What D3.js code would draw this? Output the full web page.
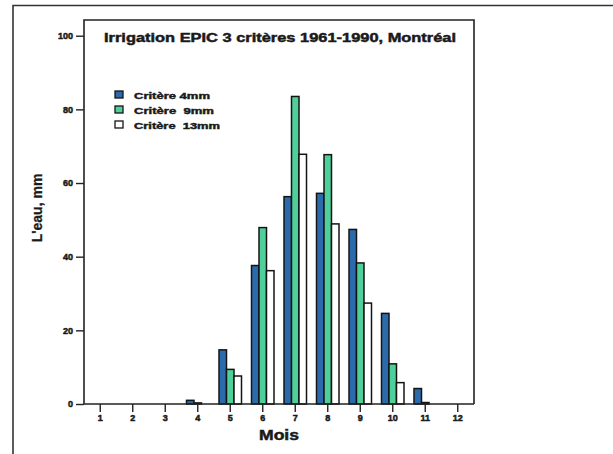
<!DOCTYPE html>
<html>
<head>
<meta charset="utf-8">
<script src="https://cdn.jsdelivr.net/npm/d3@7"></script>
<style>
  html, body { margin: 0; padding: 0; background: #fff; }
  svg { display: block; }
  text { font-family: "Liberation Sans", Arial, sans-serif; font-weight: bold; fill: #1a1a1a; }
</style>
</head>
<body>
<svg id="chart" width="613" height="454"></svg>
<script>
// Monthly irrigation water (mm), EPIC model, Montréal 1961-1990
const months = [1, 2, 3, 4, 5, 6, 7, 8, 9, 10, 11, 12];
const crit4  = [0, 0, 0, 1.0, 14.7, 37.6, 56.3, 57.2, 47.4, 24.6, 4.2, 0];
const crit9  = [0, 0, 0, 0.3, 9.4, 47.9, 83.5, 67.7, 38.3, 10.9, 0.4, 0];
const crit13 = [0, 0, 0, 0, 7.6, 36.2, 67.8, 48.9, 27.4, 5.8, 0, 0];
const seriesNames = ["Critère 4mm", "Critère  9mm", "Critère  13mm"];
const yTicks = [0, 20, 40, 60, 80, 100];
const titleText = "Irrigation EPIC 3 critères 1961-1990, Montréal";

const colors = ["#2b6aab", "#4fd09a", "#ffffff"];
const seriesValues = [crit4, crit9, crit13];

const svg = d3.select("#chart");

// heavy lettering: bold face plus a thin outline of the same ink
const heavy = (sel, w) => sel.attr("stroke", "#1a1a1a").attr("stroke-width", w).attr("paint-order", "stroke");

// page frame
svg.append("path")
  .attr("d", "M13,454 L13,5.5 L613,5.5")
  .attr("fill", "none").attr("stroke", "#333").attr("stroke-width", 1.6);

const plot = { left: 84, right: 474, top: 20, bottom: 404 };

const x = d3.scaleBand().domain(months).range([plot.left, plot.right]).padding(0);
const y = d3.scaleLinear().domain([0, 100]).range([plot.bottom, 35.7]);

const barW = 7.5;
const groupW = barW * seriesValues.length;

// bars
seriesValues.forEach((vals, si) => {
  const data = months.map((m, i) => ({ m, v: vals[i] })).filter(d => d.v > 0);
  svg.append("g").selectAll("rect")
    .data(data)
    .join("rect")
    .attr("x", d => x(d.m) + x.bandwidth() / 2 - groupW / 2 + si * barW)
    .attr("y", d => y(d.v))
    .attr("width", barW)
    .attr("height", d => y(0) - y(d.v))
    .attr("fill", colors[si])
    .attr("stroke", "#141414")
    .attr("stroke-width", 1.5);
});

// plot frame (left, top, right)
svg.append("path")
  .attr("d", `M${plot.left},${plot.bottom} L${plot.left},${plot.top} L${plot.right},${plot.top} L${plot.right},${plot.bottom}`)
  .attr("fill", "none").attr("stroke", "#222").attr("stroke-width", 1.6);

// y axis
const yAxis = svg.append("g")
  .attr("transform", `translate(${plot.left},0)`)
  .call(d3.axisLeft(y).tickValues(yTicks).tickSize(8).tickPadding(3));
yAxis.select(".domain").remove();
yAxis.selectAll("line").attr("stroke", "#222").attr("stroke-width", 1.4);
yAxis.selectAll("text").attr("font-size", 9).attr("font-family", "Liberation Sans, Arial, sans-serif")
  .attr("font-weight", "bold").attr("fill", "#1a1a1a").call(heavy, 0.5);

// x axis
const xAxis = svg.append("g")
  .attr("transform", `translate(0,${plot.bottom})`)
  .call(d3.axisBottom(x).tickSize(8).tickPadding(3));
xAxis.select(".domain").attr("d", `M${plot.left},0 L${plot.right},0`).attr("stroke", "#222").attr("stroke-width", 1.6);
xAxis.selectAll("line").attr("stroke", "#222").attr("stroke-width", 1.4);
xAxis.selectAll("text").attr("font-size", 9).attr("font-family", "Liberation Sans, Arial, sans-serif")
  .attr("font-weight", "bold").attr("fill", "#1a1a1a").call(heavy, 0.5);

// title
svg.append("text")
  .attr("x", 104).attr("y", 42)
  .attr("font-size", 13.5)
  .attr("textLength", 352).attr("lengthAdjust", "spacingAndGlyphs")
  .call(heavy, 0.5)
  .text(titleText);

// axis titles
svg.append("text")
  .attr("x", 279).attr("y", 440)
  .attr("text-anchor", "middle")
  .attr("font-size", 15)
  .attr("textLength", 40).attr("lengthAdjust", "spacingAndGlyphs")
  .call(heavy, 0.5)
  .text("Mois");

svg.append("text")
  .attr("transform", "translate(42,208) rotate(-90)")
  .attr("text-anchor", "middle")
  .attr("font-size", 14)
  .call(heavy, 0.3)
  .text("L'eau, mm");

// legend
const legend = svg.append("g").attr("transform", "translate(115,95)");
seriesNames.forEach((name, i) => {
  const row = legend.append("g").attr("transform", `translate(0,${i * 15})`);
  row.append("rect")
    .attr("x", 0).attr("y", -4).attr("width", 8).attr("height", 7)
    .attr("fill", colors[i]).attr("stroke", "#141414").attr("stroke-width", 1.3);
  row.append("text")
    .attr("x", 19).attr("y", 3.5)
    .attr("font-size", 9.5)
    .attr("textLength", i === 0 ? 76 : i === 1 ? 80 : 86)
    .attr("lengthAdjust", "spacingAndGlyphs")
    .style("white-space", "pre")
    .call(heavy, 0.45)
    .text(name);
});
</script>
</body>
</html>
